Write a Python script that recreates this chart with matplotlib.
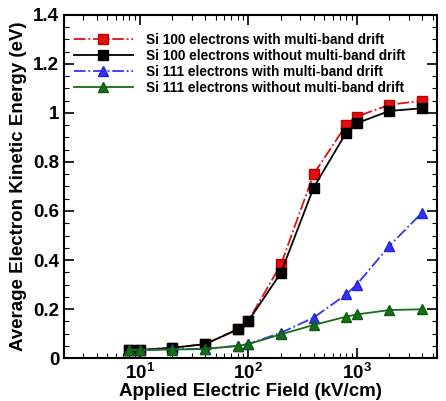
import matplotlib
matplotlib.use("Agg")
import matplotlib.pyplot as plt
from matplotlib.ticker import MultipleLocator, LogLocator, NullFormatter

plt.rcParams['font.family'] = ['Liberation Sans', 'DejaVu Sans']
plt.rcParams['font.weight'] = 'bold'

field = [8, 10, 20, 40, 80, 100, 200, 400, 800, 1000, 2000, 4000]
si100_multi = [0.034, 0.034, 0.042, 0.057, 0.118, 0.152, 0.382, 0.750, 0.951, 0.985, 1.033, 1.050]
si100_single = [0.033, 0.033, 0.042, 0.057, 0.117, 0.151, 0.348, 0.695, 0.920, 0.958, 1.008, 1.019]
si111_multi = [0.034, 0.034, 0.036, 0.038, 0.050, 0.058, 0.103, 0.165, 0.260, 0.300, 0.458, 0.593]
si111_single = [0.033, 0.033, 0.035, 0.037, 0.050, 0.057, 0.097, 0.135, 0.169, 0.178, 0.196, 0.199]

labels = [
    "Si 100 electrons with multi-band drift",
    "Si 100 electrons without multi-band drift",
    "Si 111 electrons with multi-band drift",
    "Si 111 electrons without multi-band drift",
]

fig = plt.figure(figsize=(4.46, 4.01), dpi=100)
ax = fig.add_axes([0.1435, 0.107, 0.8365, 0.856])

ax.plot(field, si100_multi, color='#e01010', ls='-.', lw=1.3, marker='s', ms=7.5,
        mec='#c00000', label=labels[0])
ax.plot(field, si100_single, color='black', ls='-', lw=1.3, marker='s', ms=7.5,
        mec='black', label=labels[1])
ax.plot(field, si111_multi, color='#3333ff', ls='-.', lw=1.3, marker='^', ms=7.5,
        mec='#2222dd', label=labels[2])
ax.plot(field, si111_single, color='#157015', ls='-', lw=1.3, marker='^', ms=7.5,
        mec='#0f5a0f', label=labels[3])

ax.set_xscale('log')
ax.set_xlim(2, 5500)
ax.set_ylim(0, 1.4)
ax.yaxis.set_minor_locator(MultipleLocator(0.05))
ax.set_yticks([0, 0.2, 0.4, 0.6, 0.8, 1.0, 1.2, 1.4])
ax.set_yticklabels(['0', '0.2', '0.4', '0.6', '0.8', '1', '1.2', '1.4'])
ax.xaxis.set_major_locator(LogLocator(base=10))
ax.xaxis.set_minor_locator(LogLocator(base=10, subs=range(2, 10)))
ax.xaxis.set_minor_formatter(NullFormatter())

ax.tick_params(which='both', direction='in', top=True, right=True)
ax.tick_params(which='major', length=7, width=1.2, labelsize=13.5)
ax.tick_params(which='minor', length=3.5, width=0.8)
for s in ax.spines.values():
    s.set_linewidth(1.5)

ax.set_xlabel('Applied Electric Field (kV/cm)', fontsize=13.5, fontweight='bold', labelpad=0)
ax.set_ylabel('Average Electron Kinetic Energy (eV)', fontsize=13.5, fontweight='bold', labelpad=4)

leg = ax.legend(loc='upper left', frameon=False, fontsize=9.8, handlelength=4.4,
                borderaxespad=0.3, labelspacing=0.15, handletextpad=0.9,
                bbox_to_anchor=(0.0, 0.975))
for t in leg.get_texts():
    t.set_fontweight('bold')

fig.savefig('out.png', dpi=100)
